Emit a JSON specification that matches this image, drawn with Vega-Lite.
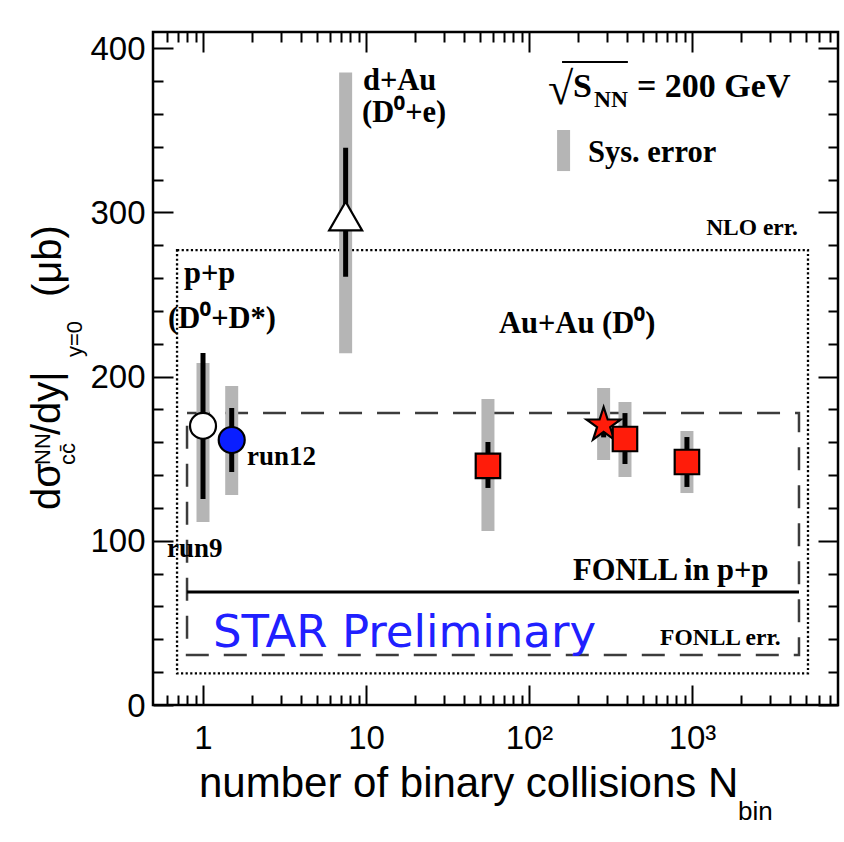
{
  "$schema": "https://vega.github.io/schema/vega-lite/v6.json",
  "width": 685,
  "height": 673,
  "autosize": {"type": "none"},
  "padding": {"left": 153, "top": 32, "right": 6, "bottom": 137},
  "background": "white",
  "config": {
    "view": {"stroke": "black", "strokeWidth": 2.5},
    "axis": {
      "grid": false,
      "domain": false,
      "tickColor": "black",
      "tickWidth": 2,
      "labelFont": "Liberation Sans",
      "labelFontSize": 33,
      "labelColor": "black",
      "labelFlush": false,
      "labelOverlap": false,
      "labelBound": false
    },
    "text": {"font": "Liberation Serif", "fontWeight": "bold", "align": "left", "baseline": "alphabetic", "color": "black"}
  },
  "datasets": {
    "measurements": [
      {"set": "p+p run9", "nbin": 1.0, "xsec": 170.0, "statLo": 125.5, "statHi": 214.4, "sysLo": 111.5, "sysHi": 208.3},
      {"set": "p+p run12", "nbin": 1.5, "xsec": 161.4, "statLo": 141.9, "statHi": 180.9, "sysLo": 127.9, "sysHi": 194.3},
      {"set": "d+Au", "nbin": 7.5, "xsec": 297.8, "statLo": 260.8, "statHi": 339.4, "sysLo": 214.2, "sysHi": 385.3},
      {"set": "Au+Au", "nbin": 56, "xsec": 145.6, "statLo": 132.2, "statHi": 160.2, "sysLo": 106.0, "sysHi": 186.4},
      {"set": "Au+Au star", "nbin": 287, "xsec": 170.5, "statLo": 163.0, "statHi": 178.0, "sysLo": 149.2, "sysHi": 193.1},
      {"set": "Au+Au", "nbin": 388, "xsec": 162.0, "statLo": 146.8, "statHi": 177.8, "sysLo": 138.9, "sysHi": 184.5},
      {"set": "Au+Au", "nbin": 931, "xsec": 148.0, "statLo": 132.8, "statHi": 163.2, "sysLo": 129.1, "sysHi": 166.9}
    ],
    "theory": [
      {"model": "NLO", "xlo": 0.693, "xhi": 5148, "ylo": 19.3, "yhi": 277.1},
      {"model": "FONLL", "xlo": 0.798, "xhi": 4533, "ylo": 30.5, "yhi": 177.8, "central": 68.8}
    ],
    "legendBar": [{"x": 163, "ylo": 325.2, "yhi": 350.2}],
    "radicalBar": [{"x": 159.5, "x2": 404.3, "y": 391.6}],
    "notes": [
      {"role": "system", "text": "d+Au", "x": 9.585, "y": 374.5},
      {"role": "system", "text": "(D⁰+e)", "x": 9.45, "y": 355.1},
      {"role": "system", "text": "p+p", "x": 0.7647, "y": 257.0},
      {"role": "system", "text": "(D⁰+D*)", "x": 0.6099, "y": 229.6},
      {"role": "system", "text": "Au+Au (D⁰)", "x": 65.46, "y": 226.6},
      {"role": "system", "text": "FONLL in p+p", "x": 186.2, "y": 76.1},
      {"role": "system", "text": "Sys. error", "x": 230.1, "y": 330.7},
      {"role": "run", "text": "run12", "x": 1.862, "y": 146.2},
      {"role": "run", "text": "run9", "x": 0.6013, "y": 90.1},
      {"role": "band", "text": "NLO err.", "x": 1221, "y": 286.2},
      {"role": "band", "text": "FONLL err.", "x": 636.6, "y": 36.5},
      {"role": "energy", "text": "S", "x": 186.2, "y": 370.3},
      {"role": "energy", "text": "= 200 GeV", "x": 459.8, "y": 370.3},
      {"role": "energySub", "text": "NN", "x": 250.5, "y": 364.2},
      {"role": "radical", "text": "√", "x": 130.8, "y": 366.0},
      {"role": "watermark", "text": "STAR Preliminary", "x": 1.152, "y": 35.3},
      {"role": "xtitle", "text": "number of binary collisions N", "x": 0.9451, "y": -56.0},
      {"role": "xsub", "text": "bin", "x": 1915, "y": -70.0},
      {"role": "ytitle", "text": "dσ", "x": 0.1327, "y": 118.8},
      {"role": "ytitle", "text": "/dy|", "x": 0.1327, "y": 164.4},
      {"role": "ytitle", "text": "(μb)", "x": 0.1345, "y": 248.5},
      {"role": "yscript", "text": "NN", "x": 0.1151, "y": 146.2},
      {"role": "yscript", "text": "cc̄", "x": 0.1639, "y": 146.2},
      {"role": "yscript", "text": "y=0", "x": 0.181, "y": 211.9}
    ]
  },
  "layer": [
    {
      "data": {"name": "theory"},
      "transform": [{"filter": "datum.model == 'NLO'"}],
      "mark": {"type": "rect", "filled": false, "stroke": "black", "strokeWidth": 2.3, "strokeDash": [2.2, 2.4]},
      "encoding": {
        "x": {
          "field": "xlo", "type": "quantitative",
          "scale": {"type": "log", "domain": [0.4934, 7866], "nice": false},
          "axis": {
            "orient": "bottom", "title": null,
            "values": [0.6, 0.7, 0.8, 0.9, 1, 2, 3, 4, 5, 6, 7, 8, 9, 10, 20, 30, 40, 50, 60, 70, 80, 90, 100, 200, 300, 400, 500, 600, 700, 800, 900, 1000, 2000, 3000, 4000, 5000, 6000, 7000],
            "labelExpr": "datum.value == 1 ? '1' : datum.value == 10 ? '10' : datum.value == 100 ? '10²' : datum.value == 1000 ? '10³' : ''",
            "tickSize": {"condition": {"test": "datum.value == 1 || datum.value == 10 || datum.value == 100 || datum.value == 1000", "value": -20}, "value": -10},
            "labelPadding": 37
          }
        },
        "x2": {"field": "xhi"},
        "y": {
          "field": "ylo", "type": "quantitative",
          "scale": {"domain": [0, 409.9], "nice": false, "zero": false},
          "axis": {
            "orient": "left", "title": null,
            "values": [0, 20, 40, 60, 80, 100, 120, 140, 160, 180, 200, 220, 240, 260, 280, 300, 320, 340, 360, 380, 400],
            "labelExpr": "datum.value % 100 == 0 ? datum.label : ''",
            "tickSize": {"condition": {"test": "datum.value % 100 == 0", "value": -20}, "value": -10},
            "labelPadding": 28,
            "labelOffset": 1
          }
        },
        "y2": {"field": "yhi"}
      }
    },
    {
      "data": {"name": "theory"},
      "transform": [{"filter": "datum.model == 'FONLL'"}],
      "mark": {"type": "rect", "filled": false, "stroke": "#3c3c3c", "strokeWidth": 2.5, "strokeDash": [23, 15]},
      "encoding": {
        "x": {"field": "xlo", "type": "quantitative", "axis": null},
        "x2": {"field": "xhi"},
        "y": {"field": "ylo", "type": "quantitative", "axis": null},
        "y2": {"field": "yhi"}
      }
    },
    {
      "data": {"name": "theory"},
      "transform": [{"filter": "datum.model == 'FONLL'"}],
      "mark": {"type": "rule", "stroke": "black", "strokeWidth": 3},
      "encoding": {
        "x": {"field": "xlo", "type": "quantitative", "axis": null},
        "x2": {"field": "xhi"},
        "y": {"field": "central", "type": "quantitative", "axis": null}
      }
    },
    {
      "data": {"name": "measurements"},
      "mark": {"type": "rule", "stroke": "#b5b5b5", "strokeWidth": 13, "strokeCap": "butt"},
      "encoding": {
        "x": {"field": "nbin", "type": "quantitative", "axis": null},
        "y": {"field": "sysLo", "type": "quantitative", "axis": null},
        "y2": {"field": "sysHi"}
      }
    },
    {
      "data": {"name": "legendBar"},
      "mark": {"type": "rule", "stroke": "#b5b5b5", "strokeWidth": 13, "strokeCap": "butt"},
      "encoding": {
        "x": {"field": "x", "type": "quantitative", "axis": null},
        "y": {"field": "ylo", "type": "quantitative", "axis": null},
        "y2": {"field": "yhi"}
      }
    },
    {
      "data": {"name": "measurements"},
      "mark": {"type": "rule", "stroke": "black", "strokeWidth": 5, "strokeCap": "butt"},
      "encoding": {
        "x": {"field": "nbin", "type": "quantitative", "axis": null},
        "y": {"field": "statLo", "type": "quantitative", "axis": null},
        "y2": {"field": "statHi"}
      }
    },
    {
      "data": {"name": "measurements"},
      "mark": {"type": "point", "filled": true, "opacity": 1, "stroke": "black", "strokeWidth": 2.2},
      "encoding": {
        "x": {"field": "nbin", "type": "quantitative", "axis": null},
        "y": {"field": "xsec", "type": "quantitative", "axis": null},
        "shape": {"field": "set", "type": "nominal", "legend": null,
          "scale": {"domain": ["p+p run9", "p+p run12", "d+Au", "Au+Au", "Au+Au star"], "range": ["circle", "circle", "triangle-up", "square", "M0,-1L0.2245,-0.309L0.951,-0.309L0.3633,0.118L0.588,0.809L0,0.382L-0.588,0.809L-0.3633,0.118L-0.951,-0.309L-0.2245,-0.309Z"]}},
        "fill": {"field": "set", "type": "nominal", "legend": null,
          "scale": {"domain": ["p+p run9", "p+p run12", "d+Au", "Au+Au", "Au+Au star"], "range": ["white", "#0a1eff", "white", "#ff1c0a", "#ff1c0a"]}},
        "size": {"field": "set", "type": "nominal", "legend": null,
          "scale": {"type": "ordinal", "domain": ["p+p run9", "p+p run12", "d+Au", "Au+Au", "Au+Au star"], "range": [676, 676, 1089, 600, 1300]}}
      }
    },
    {
      "data": {"name": "radicalBar"},
      "mark": {"type": "rule", "stroke": "black", "strokeWidth": 2},
      "encoding": {
        "x": {"field": "x", "type": "quantitative", "axis": null},
        "x2": {"field": "x2"},
        "y": {"field": "y", "type": "quantitative", "axis": null}
      }
    },
    {
      "data": {"name": "notes"},
      "transform": [{"filter": "datum.role == 'system'"}],
      "mark": {"type": "text", "fontSize": 30.5},
      "encoding": {
        "x": {"field": "x", "type": "quantitative", "axis": null},
        "y": {"field": "y", "type": "quantitative", "axis": null},
        "text": {"field": "text"}
      }
    },
    {
      "data": {"name": "notes"},
      "transform": [{"filter": "datum.role == 'run'"}],
      "mark": {"type": "text", "fontSize": 27},
      "encoding": {
        "x": {"field": "x", "type": "quantitative", "axis": null},
        "y": {"field": "y", "type": "quantitative", "axis": null},
        "text": {"field": "text"}
      }
    },
    {
      "data": {"name": "notes"},
      "transform": [{"filter": "datum.role == 'band' || datum.role == 'energySub'"}],
      "mark": {"type": "text", "fontSize": 23.5},
      "encoding": {
        "x": {"field": "x", "type": "quantitative", "axis": null},
        "y": {"field": "y", "type": "quantitative", "axis": null},
        "text": {"field": "text"}
      }
    },
    {
      "data": {"name": "notes"},
      "transform": [{"filter": "datum.role == 'energy'"}],
      "mark": {"type": "text", "fontSize": 34},
      "encoding": {
        "x": {"field": "x", "type": "quantitative", "axis": null},
        "y": {"field": "y", "type": "quantitative", "axis": null},
        "text": {"field": "text"}
      }
    },
    {
      "data": {"name": "notes"},
      "transform": [{"filter": "datum.role == 'radical'"}],
      "mark": {"type": "text", "fontSize": 46, "fontWeight": "normal"},
      "encoding": {
        "x": {"field": "x", "type": "quantitative", "axis": null},
        "y": {"field": "y", "type": "quantitative", "axis": null},
        "text": {"field": "text"}
      }
    },
    {
      "data": {"name": "notes"},
      "transform": [{"filter": "datum.role == 'watermark'"}],
      "mark": {"type": "text", "font": "DejaVu Sans", "fontWeight": "normal", "fontSize": 45, "color": "#2020ff"},
      "encoding": {
        "x": {"field": "x", "type": "quantitative", "axis": null},
        "y": {"field": "y", "type": "quantitative", "axis": null},
        "text": {"field": "text"}
      }
    },
    {
      "data": {"name": "notes"},
      "transform": [{"filter": "datum.role == 'xtitle'"}],
      "mark": {"type": "text", "font": "Liberation Sans", "fontWeight": "normal", "fontSize": 42},
      "encoding": {
        "x": {"field": "x", "type": "quantitative", "axis": null},
        "y": {"field": "y", "type": "quantitative", "axis": null},
        "text": {"field": "text"}
      }
    },
    {
      "data": {"name": "notes"},
      "transform": [{"filter": "datum.role == 'xsub'"}],
      "mark": {"type": "text", "font": "Liberation Sans", "fontWeight": "normal", "fontSize": 26},
      "encoding": {
        "x": {"field": "x", "type": "quantitative", "axis": null},
        "y": {"field": "y", "type": "quantitative", "axis": null},
        "text": {"field": "text"}
      }
    },
    {
      "data": {"name": "notes"},
      "transform": [{"filter": "datum.role == 'ytitle'"}],
      "mark": {"type": "text", "font": "Liberation Sans", "fontWeight": "normal", "fontSize": 40, "angle": 270},
      "encoding": {
        "x": {"field": "x", "type": "quantitative", "axis": null},
        "y": {"field": "y", "type": "quantitative", "axis": null},
        "text": {"field": "text"}
      }
    },
    {
      "data": {"name": "notes"},
      "transform": [{"filter": "datum.role == 'yscript'"}],
      "mark": {"type": "text", "font": "Liberation Sans", "fontWeight": "normal", "fontSize": 22, "angle": 270},
      "encoding": {
        "x": {"field": "x", "type": "quantitative", "axis": null},
        "y": {"field": "y", "type": "quantitative", "axis": null},
        "text": {"field": "text"}
      }
    },
    {
      "data": {"name": "measurements"},
      "mark": {"type": "point", "opacity": 0},
      "encoding": {
        "x": {
          "field": "nbin", "type": "quantitative",
          "axis": {
            "orient": "top", "title": null, "labels": false,
            "values": [0.6, 0.7, 0.8, 0.9, 1, 2, 3, 4, 5, 6, 7, 8, 9, 10, 20, 30, 40, 50, 60, 70, 80, 90, 100, 200, 300, 400, 500, 600, 700, 800, 900, 1000, 2000, 3000, 4000, 5000, 6000, 7000],
            "tickSize": {"condition": {"test": "datum.value == 1 || datum.value == 10 || datum.value == 100 || datum.value == 1000", "value": -20}, "value": -10}
          }
        },
        "y": {
          "field": "xsec", "type": "quantitative",
          "axis": {
            "orient": "right", "title": null, "labels": false,
            "values": [0, 20, 40, 60, 80, 100, 120, 140, 160, 180, 200, 220, 240, 260, 280, 300, 320, 340, 360, 380, 400],
            "tickSize": {"condition": {"test": "datum.value % 100 == 0", "value": -20}, "value": -10}
          }
        }
      }
    }
  ],
  "resolve": {"axis": {"x": "independent", "y": "independent"}}
}
